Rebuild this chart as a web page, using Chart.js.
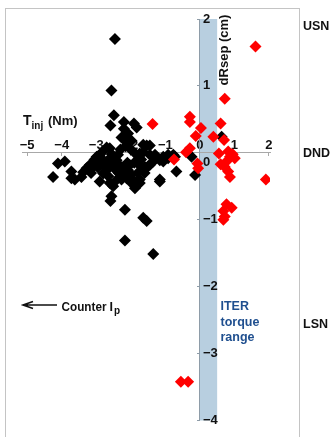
<!DOCTYPE html>
<html>
  <head>
    <title>Tinj vs dRsep</title>
    <script src="https://cdn.jsdelivr.net/npm/chart.js"></script>
    <style>
      body { margin: 0; background: #fff; }
    </style>
  </head>
  <body>
    <canvas id="scatter" width="330" height="437"></canvas>

    <script>
        // counter-Ip points (black)
        const blackT = [-2.46, -2.56, -2.49, -2.59, -2.20, -1.91, -1.83, -2.20, -2.08, -2.27, -1.98, -1.64, -2.70, -2.12, -1.45,
          -1.64, -1.45, -1.26, -1.06, -0.92, -0.72, -1.35, -1.16, -1.59, -0.68, -1.16, -1.74, -0.14, -0.92, -0.77,
          -1.06, -0.24, 0.63, -4.11, -3.91, -4.25, -3.72, -3.72, -3.62, -3.43, -3.38, -3.28, -3.19, -3.09, -2.99,
          -2.90, -2.83, -2.61, -2.85, -2.83, -2.66, -2.51, -2.41, -2.56, -2.70, -2.80, -2.90, -2.61, -2.51, -2.56,
          -2.59, -2.27, -2.12, -2.22, -2.08, -2.37, -2.17, -1.98, -1.88, -1.79, -1.64, -1.54, -2.17, -1.35, -2.30,
          -2.15, -2.00, -1.85, -1.70, -1.90, -2.10, -2.20, -2.35, -2.00, -1.80, -1.60, -1.50, -1.72, -1.95, -2.30,
          -2.45, -2.40, -2.65, -2.75, -2.95, -3.05, -3.15, -2.55, -2.99, -2.03, -1.74, -1.54, -1.30, -1.45, -2.22,
          -1.16, -1.74, -1.88];
        const blackDR = [1.70, 0.93, 0.56, 0.41, 0.46, 0.44, 0.38, 0.36, 0.29, 0.23, 0.18, 0.12, 0.08, 0.16, 0.11,
          0.01, -0.03, -0.06, -0.06, -0.03, -0.06, -0.13, -0.11, -0.21, -0.28, -0.43, -0.45, -0.33, -0.08, -0.03,
          -0.13, -0.06, 0.24, -0.16, -0.13, -0.36, -0.28, -0.38, -0.40, -0.36, -0.29, -0.23, -0.18, -0.21, -0.13,
          -0.03, 0.01, 0.07, -0.08, -0.16, -0.11, -0.06, -0.11, -0.18, -0.26, -0.31, -0.43, -0.45, -0.50, -0.65,
          -0.72, -0.40, -0.38, -0.21, -0.26, -0.03, -0.85, -0.45, -0.53, -0.45, -0.97, -1.02, -1.31, -1.51, 0.05,
          0.10, 0.05, -0.02, -0.10, -0.15, -0.15, -0.30, -0.30, -0.32, -0.30, -0.30, -0.20, -0.20, -0.40, -0.20,
          -0.25, -0.40, -0.35, -0.15, -0.22, -0.10, -0.30, -0.02, -0.06, -0.18, -0.01, 0.11, -0.03, -0.18, -0.36,
          -0.40, -0.40, -0.45];

        // co-Ip points (red)
        const redT = [1.61, 0.72, -0.29, -0.29, 0.60, 0.03, -0.12, 0.39, -1.37, 0.70, -0.29, -0.40, -0.75, -0.07, -0.05,
          0.55, 0.82, 0.87, 1.01, 0.77, 0.72, 0.82, 0.87, 1.91, 0.77, 0.92, 0.68, 0.72, 0.68, -0.55, -0.34, 0.60, 0.95];
        const redDR = [1.59, 0.81, 0.54, 0.46, 0.44, 0.37, 0.25, 0.24, 0.43, 0.19, 0.07, 0.01, -0.10, -0.16, -0.23,
          -0.01, 0.02, -0.06, -0.08, -0.13, -0.21, -0.28, -0.36, -0.40, -0.77, -0.82, -0.87, -0.95, -1.00, -3.42, -3.42, -0.17, -0.02];

        // ITER torque range band
        const bandT = [0, 0.5];
        const bandDR = [-4, 2];

        const xTicks = [-5, -4, -3, -2, -1, 0, 1, 2];
        const yTicks = [2, 1, 0, -1, -2, -3, -4];

        const FONT = '"Liberation Sans", Arial, sans-serif';
        const fmt = v => v < 0 ? '\u2212' + (-v) : String(v);
        const pairs = (xs, ys) => xs.map((v, i) => ({x: v, y: ys[i]}));

        const decor = {
          id: 'decor',
          beforeDraw(chart) {
            const {ctx, chartArea: a, scales: {x, y}} = chart;
            ctx.save();
            ctx.fillStyle = '#fff';
            ctx.fillRect(0, 0, chart.width, chart.height);
            ctx.strokeStyle = '#c4c4c4';
            ctx.lineWidth = 1;
            ctx.strokeRect(Math.round(a.left - 17) + 0.5, Math.round(a.top - 11) + 0.5, Math.round(a.right - a.left + 46), 440);
            const bx0 = x.getPixelForValue(bandT[0]), bx1 = x.getPixelForValue(bandT[1]);
            const by0 = y.getPixelForValue(bandDR[1]), by1 = y.getPixelForValue(bandDR[0]);
            ctx.fillStyle = '#b8cfe0';
            ctx.fillRect(bx0, by0, bx1 - bx0, by1 - by0);
            ctx.restore();
          },
          afterDraw(chart) {
            const {ctx, chartArea: a, scales: {x, y}} = chart;
            const x0 = x.getPixelForValue(0);
            ctx.save();
            ctx.fillStyle = '#111';
            ctx.textBaseline = 'middle';
            ctx.textAlign = 'left';
            ctx.font = 'bold 13px ' + FONT;
            yTicks.forEach(v => {
              const py = y.getPixelForValue(v) + (v === 0 ? 10 : 0);
              ctx.fillText(fmt(v), x0 + 3, py);
            });

            // region labels on the right
            ctx.font = 'bold 12.5px ' + FONT;
            ctx.fillText('USN', 303, y.getPixelForValue(1.88));
            ctx.fillText('DND', 303, y.getPixelForValue(0) + 1);
            ctx.fillText('LSN', 303, y.getPixelForValue(-2.57));

            // x axis title T_inj (Nm)
            ctx.textBaseline = 'alphabetic';
            ctx.font = 'bold 14px ' + FONT;
            ctx.fillText('T', 23, 125);
            ctx.font = 'bold 10px ' + FONT;
            ctx.fillText('inj', 31.5, 129);
            ctx.font = 'bold 13px ' + FONT;
            ctx.fillText('(Nm)', 48, 125);

            // y axis title
            ctx.save();
            ctx.translate(x0 + 25, 50);
            ctx.rotate(-Math.PI / 2);
            ctx.textAlign = 'center';
            ctx.textBaseline = 'middle';
            ctx.font = 'bold 13px ' + FONT;
            ctx.fillText('dRsep (cm)', 0, 0);
            ctx.restore();

            // counter Ip arrow
            ctx.strokeStyle = '#111';
            ctx.lineWidth = 1.6;
            ctx.beginPath();
            ctx.moveTo(57, 305); ctx.lineTo(23, 305);
            ctx.moveTo(33, 301.5); ctx.lineTo(23, 305); ctx.lineTo(33, 308.5);
            ctx.stroke();
            ctx.font = 'bold 12.5px ' + FONT;
            ctx.fillText('Counter', 61.5, 310.5, 45);
            ctx.fillText('I', 109.5, 310.5);
            ctx.font = 'bold 10px ' + FONT;
            ctx.fillText('p', 114, 314);

            // ITER torque range
            ctx.fillStyle = '#1f4f8f';
            ctx.font = 'bold 12.5px ' + FONT;
            ctx.textBaseline = 'middle';
            ctx.fillText('ITER', 220.5, 307);
            ctx.fillText('torque', 220.5, 322.5);
            ctx.fillText('range', 220.5, 338);
            ctx.restore();
          }
        };

        const chart = new Chart(document.getElementById('scatter').getContext('2d'), {
          type: 'scatter',
          data: {
            datasets: [{
              label: 'co',
              data: pairs(redT, redDR),
              backgroundColor: '#ff0000',
              borderWidth: 0,
              pointStyle: 'rectRot',
              pointRadius: 6,
              order: 0
            },
            {
              label: 'counter',
              data: pairs(blackT, blackDR),
              backgroundColor: '#000000',
              borderWidth: 0,
              pointStyle: 'rectRot',
              pointRadius: 6,
              order: 1
            }]
          },
          options: {
            responsive: false,
            animation: false,
            devicePixelRatio: 1,
            layout: { padding: { left: 22, right: 60, top: 19, bottom: 16.5 } },
            plugins: { legend: { display: false }, tooltip: { enabled: false } },
            scales: {
              x: {
                type: 'linear',
                position: { y: 0 },
                min: -5.15,
                max: 2.03,
                afterBuildTicks: s => { s.ticks = xTicks.map(v => ({value: v})); },
                grid: { drawOnChartArea: false, drawTicks: true, tickLength: 3, color: '#a8a8a8' },
                border: { display: true, color: '#a8a8a8', width: 1 },
                ticks: {
                  padding: -18,
                  autoSkip: false,
                  maxRotation: 0,
                  color: '#111',
                  font: { family: FONT, size: 13, weight: 'bold' },
                  callback: v => fmt(v)
                }
              },
              y: {
                type: 'linear',
                position: { x: 0 },
                min: bandDR[0],
                max: bandDR[1],
                afterBuildTicks: s => { s.ticks = yTicks.map(v => ({value: v})); },
                grid: { drawOnChartArea: false, drawTicks: true, tickLength: 2, color: '#8e9ca8' },
                border: { display: true, color: '#8e9ca8', width: 1 },
                ticks: { display: false }
              }
            }
          },
          plugins: [decor]
        });
    </script>
  </body>
</html>
